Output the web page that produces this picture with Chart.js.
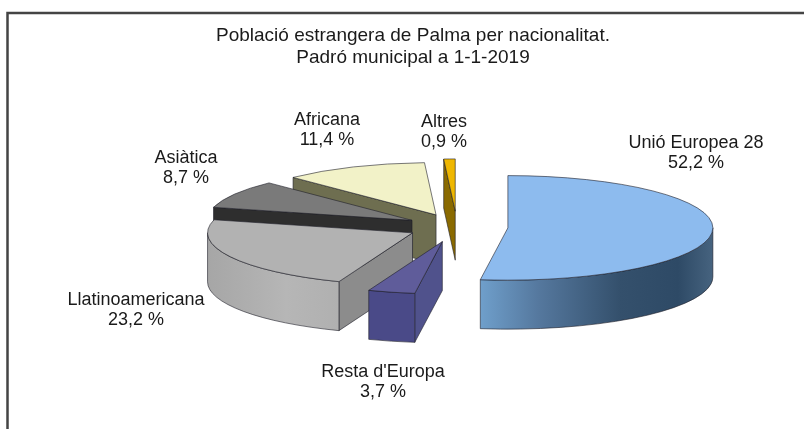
<!DOCTYPE html>
<html><head><meta charset="utf-8">
<style>
html,body{margin:0;padding:0;background:#fff;overflow:hidden}
#wrap{position:absolute;left:0;top:0;width:804px;height:429px}
canvas{filter:blur(0.4px)}
</style>
<script src="https://cdn.jsdelivr.net/npm/chart.js@4"></script>
</head><body><div id="wrap"><canvas id="c" width="804" height="429"></canvas></div>
<script>
const categories = ["Unió Europea 28","Resta d'Europa","Llatinoamericana","Asiàtica","Africana","Altres"];
const shares = [52.2,3.7,23.2,8.7,11.4,0.9];
const titleLines = ["Població estrangera de Palma per nacionalitat.","Padró municipal a 1-1-2019"];

const topColors = ["#8DBBEE","#5F5C9A","#B2B2B2","#7A7A7A","#F2F2C8","#EFB700"];
const cutColors = ["#3E5C7A","#50528C","#8C8C8C","#2E2E2E","#6E6E50","#8A6A00"];
const wallStops = [
  [[0,"#6F9FCB"],[0.25,"#55789E"],[0.6,"#34506C"],[0.85,"#2E4A66"],[1,"#46637F"]],
  [[0,"#4A4A88"],[1,"#4A4A88"]],
  [[0,"#A6A6A6"],[0.6,"#B6B6B6"],[1,"#B0B0B0"]],
  [[0,"#2E2E2E"],[1,"#2E2E2E"]],
  [[0,"#6E6E50"],[1,"#6E6E50"]],
  [[0,"#8A6A00"],[1,"#8A6A00"]]
];
const explodeBy = [51,59,50,52,52,62];
const paintOrder = [4,5,3,2,0,1];
const labelAnchors = [[696,143],[383,372],[136,300],[186,158],[327,120],[444,122]];
const view = {shiftX:44, centerY:227, squash:0.255, depth:49, radius:205};

const pie3d = {
  id:'pie3d',
  beforeDatasetsDraw(chart){
    const ctx = chart.ctx, arcs = chart.getDatasetMeta(0).data;
    const k = view.squash, D = view.depth;
    paintOrder.forEach(i=>{
      const a = arcs[i].getProps(['x','y','startAngle','endAngle','outerRadius'],true);
      const s = a.startAngle, e = a.endAngle, R = a.outerRadius, mid=(s+e)/2;
      const ax = a.x + view.shiftX + Math.cos(mid)*explodeBy[i];
      const ay = view.centerY + Math.sin(mid)*explodeBy[i]*k;
      const px = t=>ax+Math.cos(t)*R, py = t=>ay+Math.sin(t)*R*k;
      const face=(pts,fill)=>{
        ctx.beginPath(); pts.forEach((p,j)=>j?ctx.lineTo(p[0],p[1]):ctx.moveTo(p[0],p[1])); ctx.closePath();
        ctx.fillStyle=fill; ctx.fill();
        ctx.strokeStyle='rgba(30,30,40,.75)'; ctx.lineWidth=0.8; ctx.stroke();
      };
      ctx.save();
      // radial cut faces that look towards the viewer
      if(Math.cos(s)<0) face([[ax,ay],[px(s),py(s)],[px(s),py(s)+D],[ax,ay+D]],cutColors[i]);
      if(Math.cos(e)>0) face([[ax,ay],[px(e),py(e)],[px(e),py(e)+D],[ax,ay+D]],cutColors[i]);
      // outer curved wall (only the front half of the rim)
      const spans=[]; 
      for(let m=-1;m<=2;m++){const lo=Math.max(s,m*2*Math.PI),hi=Math.min(e,m*2*Math.PI+Math.PI); if(hi>lo)spans.push([lo,hi]);}
      spans.forEach(([lo,hi])=>{
        const x0=Math.min(px(lo),px(hi),hi>lo&&lo<=0&&hi>=0?px(0):1e9), x1=Math.max(px(lo),px(hi),lo<=0&&hi>=0?px(0):-1e9);
        const g=ctx.createLinearGradient(x0,0,x1,0); wallStops[i].forEach(st=>g.addColorStop(st[0],st[1]));
        ctx.beginPath();
        ctx.ellipse(ax,ay,R,R*k,0,lo,hi);
        ctx.ellipse(ax,ay+D,R,R*k,0,hi,lo,true);
        ctx.closePath(); ctx.fillStyle=g; ctx.fill();
        ctx.strokeStyle='rgba(30,30,40,.75)'; ctx.lineWidth=0.8; ctx.stroke();
      });
      // top surface, drawn by the library's arc element
      ctx.save();
      ctx.translate(ax,ay); ctx.scale(1,k); ctx.translate(-a.x,-a.y);
      arcs[i].draw(ctx);
      ctx.restore();
      ctx.beginPath(); ctx.moveTo(ax,ay); ctx.ellipse(ax,ay,R,R*k,0,s,e); ctx.closePath();
      ctx.strokeStyle='rgba(30,30,40,.75)'; ctx.lineWidth=0.8; ctx.stroke();
      ctx.restore();
    });
    return false;
  },
  afterDraw(chart){
    const ctx=chart.ctx;
    ctx.save();
    ctx.strokeStyle='#444'; ctx.lineWidth=2.5;
    ctx.beginPath(); ctx.moveTo(7.5,440); ctx.lineTo(7.5,13); ctx.lineTo(820,13); ctx.stroke();
    ctx.fillStyle='#1a1a1a'; ctx.font='18px "Liberation Sans", Arial, sans-serif';
    ctx.textAlign='center'; ctx.textBaseline='middle';
    categories.forEach((c,i)=>{
      const [x,y]=labelAnchors[i];
      ctx.fillText(c,x,y);
      ctx.fillText(shares[i].toFixed(1).replace('.',',')+' %',x,y+20);
    });
    ctx.restore();
  }
};

new Chart(document.getElementById('c'),{
  type:'pie',
  data:{labels:categories,datasets:[{data:shares,backgroundColor:topColors,borderWidth:0}]},
  options:{
    responsive:false,animation:false,radius:view.radius,
    layout:{padding:{left:22}},
    plugins:{
      legend:{display:false},tooltip:{enabled:false},
      title:{display:true,fullSize:false,text:titleLines,color:'#1a1a1a',
        font:{family:'"Liberation Sans", Arial, sans-serif',size:19,weight:'normal',lineHeight:1.16},
        padding:{top:25,bottom:0}}
    }
  },
  plugins:[pie3d]
});
</script></body></html>
